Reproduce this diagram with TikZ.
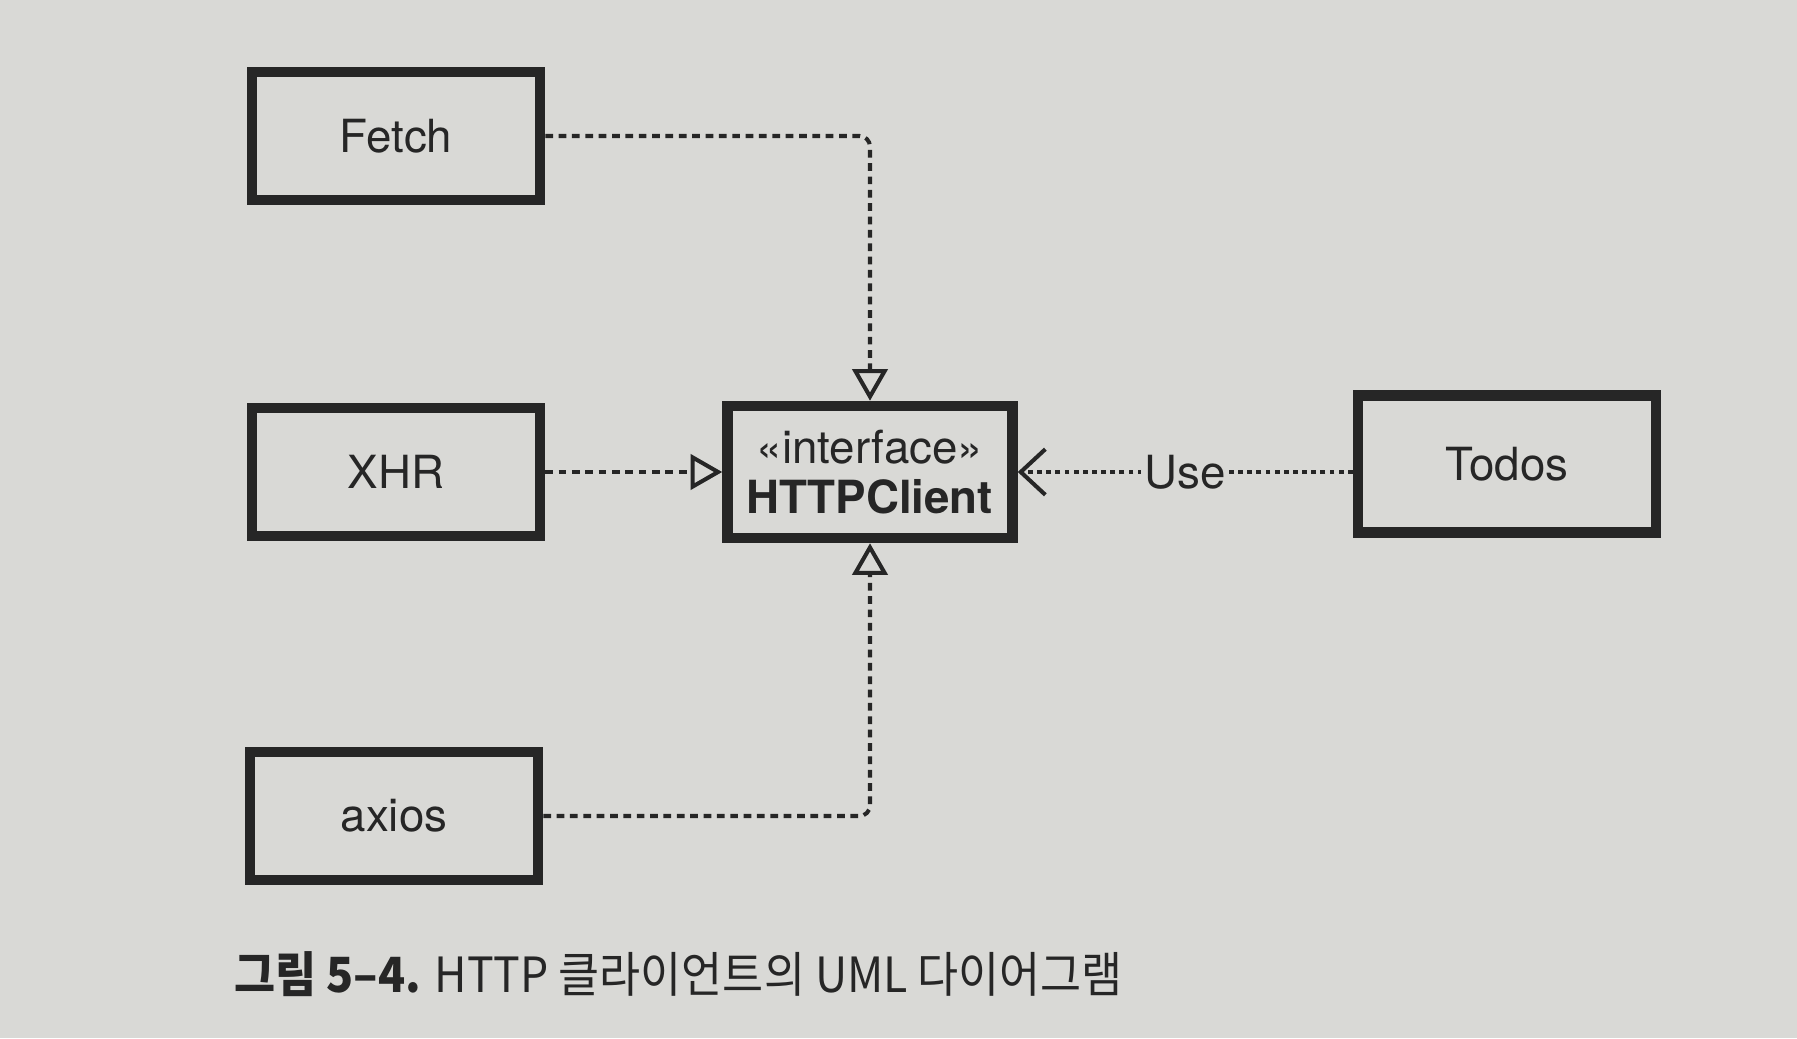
\documentclass[tikz,border=0pt]{standalone}
\usepackage{fontspec}
\setmainfont{TeX Gyre Heros}
\newfontfamily\krfont[FakeStretch=0.92]{Noto Sans CJK KR}
\usetikzlibrary{positioning,arrows.meta}
\definecolor{paper}{RGB}{217,217,214}
\definecolor{ink}{RGB}{38,38,38}

\begin{document}
\begin{tikzpicture}[
  cls/.style={draw=ink, line width=3pt, fill=paper, text=ink,
    minimum width=2.88cm, minimum height=1.28cm, align=center,
    font=\fontsize{13}{14.4}\selectfont},
  real/.style={draw=ink, line width=1.15pt, dash pattern=on 2.2pt off 1.6pt,
    rounded corners=3pt, -{Triangle[open,length=9pt,width=10pt]}},
  uses/.style={draw=ink, line width=1.15pt, dash pattern=on 1.4pt off 1.2pt,
    -{Straight Barb[length=7pt,width=13pt]}}
]
\fill[paper] (0,0) rectangle (17.97,10.38);
\useasboundingbox (0,0) rectangle (17.97,10.38);
\node[cls] (fetch) at (3.96,9.02) {Fetch};
\node[cls] (xhr) at (3.96,5.66) {XHR};
\node[cls] (axios) at (3.94,2.22) {axios};
\node[cls, minimum width=2.85cm, minimum height=1.32cm] (http) at (8.70,5.66)
  {«interface»\\\textbf{HTTPClient}};
\node[cls, minimum width=2.98cm, minimum height=1.37cm] (todos) at (15.07,5.74) {Todos};
\draw[real] (fetch.east) -| (http.north);
\draw[real] (xhr.east) -- (http.west);
\draw[real] (axios.east) -| (http.south);
\draw[uses] (todos.west |- http.east) -- (http.east)
  node[pos=0.5, fill=paper, inner sep=1pt, text=ink, font=\fontsize{13}{15}\selectfont] (use) {Use};
\node[anchor=west, text=ink, font=\krfont\fontsize{13.8}{16}\selectfont] (caption) at (2.22,0.64)
  {\textbf{그림 5–4.} HTTP 클라이언트의 UML 다이어그램};
\end{tikzpicture}
\end{document}
